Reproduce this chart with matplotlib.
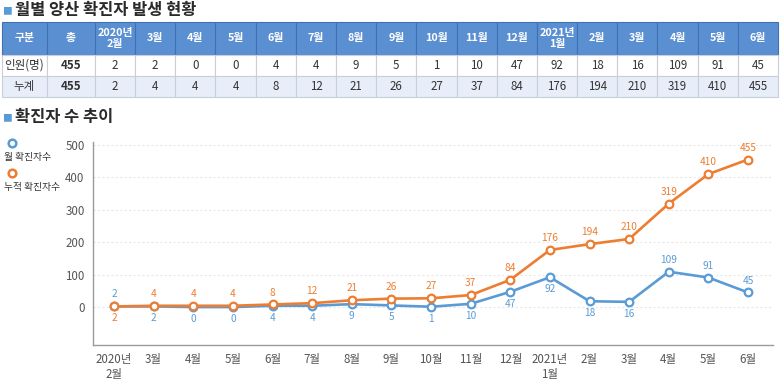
import matplotlib
matplotlib.use("Agg")
import matplotlib.pyplot as plt

plt.rcParams['font.family'] = ['Noto Sans CJK KR', 'DejaVu Sans']

# data
months = ['2020년\n2월', '3월', '4월', '5월', '6월', '7월', '8월', '9월', '10월',
          '11월', '12월', '2021년\n1월', '2월', '3월', '4월', '5월', '6월']
monthly = [2, 2, 0, 0, 4, 4, 9, 5, 1, 10, 47, 92, 18, 16, 109, 91, 45]
cumulative = [2, 4, 4, 4, 8, 12, 21, 26, 27, 37, 84, 176, 194, 210, 319, 410, 455]
total = 455
row_names = ['인원(명)', '누계']
series_names = ['월 확진자수', '누적 확진자수']

BLUE = '#5b9bd5'
ORANGE = '#ed7d31'
HEAD = '#5a8fd2'
LIGHT = '#e7eef9'

W, H = 780, 383
fig = plt.figure(figsize=(W / 100, H / 100), dpi=100)

def fy(py):
    return 1 - py / H

# section titles
fig.text(2 / W, fy(11), '■', color=BLUE, fontsize=7, va='center', ha='left')
fig.text(15 / W, fy(10), '월별 양산 확진자 발생 현황', fontsize=11.8, fontweight='bold',
         va='center', ha='left', color='#2a2a2a')
fig.text(2 / W, fy(118), '■', color=BLUE, fontsize=7, va='center', ha='left')
fig.text(15 / W, fy(117), '확진자 수 추이', fontsize=11.8, fontweight='bold',
         va='center', ha='left', color='#2a2a2a')

# table
tax = fig.add_axes([2 / W, fy(97), 776 / W, 75 / H])
tax.axis('off')
header = ['구분', '총'] + months
body = [[row_names[0], str(total)] + [str(v) for v in monthly],
        [row_names[1], str(total)] + [str(v) for v in cumulative]]
col_w = [45, 48] + [40.2] * len(months)
tbl = tax.table(cellText=[header] + body, colWidths=col_w, bbox=[0, 0, 1, 1],
                cellLoc='center')
tbl.auto_set_font_size(False)
row_h = [33, 21, 21]
for (r, c), cell in tbl.get_celld().items():
    cell.set_height(row_h[r])
    cell.set_linewidth(0.8)
    txt = cell.get_text()
    if r == 0:
        cell.set_facecolor(HEAD)
        cell.set_edgecolor('#3f72b5')
        txt.set_color('white')
        txt.set_fontweight('bold')
        txt.set_fontsize(7.8)
        txt.set_linespacing(1.1)
    else:
        cell.set_facecolor('white' if r == 1 else LIGHT)
        cell.set_edgecolor('#c9cfd8')
        txt.set_color('#333333')
        txt.set_fontsize(8.3)
        if c == 1:
            txt.set_fontweight('bold')

# line chart
ax = fig.add_axes([93 / W, fy(345), 680 / W, 203 / H])
x = list(range(len(months)))
ax.plot(x, monthly, color=BLUE, lw=1.9, marker='o', ms=5.5, mfc='white', mec=BLUE,
        mew=1.6, zorder=3)
ax.plot(x, cumulative, color=ORANGE, lw=1.9, marker='o', ms=5.5, mfc='white',
        mec=ORANGE, mew=1.6, zorder=4)
ax.set_xlim(-0.53, 16.63)
ax.set_ylim(-117, 509)
ax.set_yticks([0, 100, 200, 300, 400, 500])
ax.set_xticks(x)
ax.set_xticklabels(months, linespacing=1.2)
ax.tick_params(length=0, labelsize=8.3, colors='#555555', pad=6)
ax.grid(axis='y', color='#e8e8e8', lw=0.8, ls=(0, (2, 2)))
for s in ['top', 'right']:
    ax.spines[s].set_visible(False)
for s in ['left', 'bottom']:
    ax.spines[s].set_color('#9a9a9a')
    ax.spines[s].set_linewidth(1)

above_blue = {0, 14, 15, 16}
for i, v in enumerate(monthly):
    if i in above_blue:
        ax.annotate(str(v), (i, v), xytext=(0, 5), textcoords='offset points',
                    ha='center', va='bottom', fontsize=7.3, color=BLUE)
    else:
        ax.annotate(str(v), (i, v), xytext=(0, -5), textcoords='offset points',
                    ha='center', va='top', fontsize=7.3, color=BLUE)
for i, v in enumerate(cumulative):
    if i == 0:
        ax.annotate(str(v), (i, v), xytext=(0, -5), textcoords='offset points',
                    ha='center', va='top', fontsize=7.3, color=ORANGE)
    else:
        ax.annotate(str(v), (i, v), xytext=(0, 5), textcoords='offset points',
                    ha='center', va='bottom', fontsize=7.3, color=ORANGE)

# legend on the left
for py, col, name in [(143, BLUE, series_names[0]), (173, ORANGE, series_names[1])]:
    fig.lines.append(plt.Line2D([12 / W], [fy(py)], marker='o', ms=5.5, mfc='white',
                                mec=col, mew=1.8, transform=fig.transFigure))
    fig.text(4 / W, fy(py + 14), name, fontsize=7, va='center', ha='left',
             color='#333333')

fig.savefig('out.png', dpi=100)
